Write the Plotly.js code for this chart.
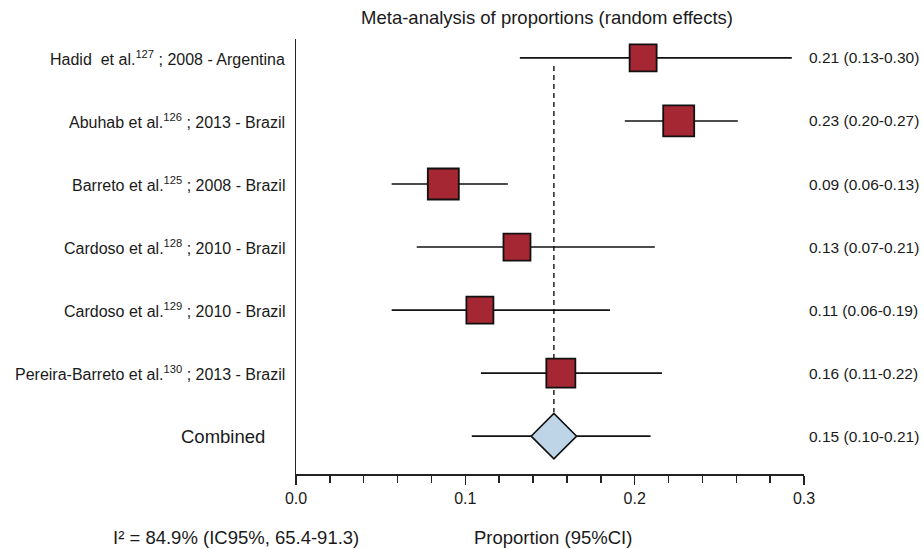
<!DOCTYPE html>
<html>
<head>
<meta charset="utf-8">
<script src="https://cdn.plot.ly/plotly-3.0.1.min.js"></script>
<style>html,body{margin:0;padding:0;background:#fff;}#chart{width:924px;height:549px;}</style>
</head>
<body>
<div id="chart"></div>
<script>
// ---- data ----
const studies = ['Hadid\u00a0 et al.', 'Abuhab et al.', 'Barreto et al.', 'Cardoso et al.', 'Cardoso et al.', 'Pereira-Barreto et al.'];
const refs = ['127', '126', '125', '128', '129', '130'];
const yearsCountry = ['2008 - Argentina', '2013 - Brazil', '2008 - Brazil', '2010 - Brazil', '2010 - Brazil', '2013 - Brazil'];
const estimates = [0.205, 0.226, 0.087, 0.1305, 0.1086, 0.1564];
const ciLow = [0.1322, 0.1942, 0.0565, 0.0713, 0.0565, 0.1092];
const ciHigh = [0.2928, 0.2609, 0.1251, 0.2119, 0.1854, 0.2161];
const rightLabels = ['0.21 (0.13-0.30)', '0.23 (0.20-0.27)', '0.09 (0.06-0.13)', '0.13 (0.07-0.21)', '0.11 (0.06-0.19)', '0.16 (0.11-0.22)'];
const pooledLabel = 'Combined';
const pooledEst = 0.1523;
const pooledLow = 0.1038;
const pooledHigh = 0.2094;
const pooledRight = '0.15 (0.10-0.21)';
const heterogeneity = 'I\u00b2 = 84.9% (IC95%, 65.4-91.3)';
const xTickVals = [0, 0.1, 0.2, 0.3];

// ---- styles (not data) ----
const markerSizes = [27, 31, 31, 27, 27, 29];
const FONT = '"Liberation Sans", Arial, sans-serif';
const TXT = '#1a1a1a';

const rows = studies.map((_, i) => i);
const pooledRow = studies.length;

const studyTrace = {
  type: 'scatter', mode: 'markers',
  x: estimates, y: rows,
  error_x: {
    type: 'data', symmetric: false,
    array: estimates.map((e, i) => ciHigh[i] - e),
    arrayminus: estimates.map((e, i) => e - ciLow[i]),
    color: '#111', thickness: 1.6, width: 0
  },
  marker: { symbol: 'square', size: markerSizes, opacity: 1, color: '#a52733', line: { color: '#111', width: 1.8 } },
  hoverinfo: 'skip', showlegend: false
};

const pooledTrace = {
  type: 'scatter', mode: 'markers',
  x: [pooledEst], y: [pooledRow],
  error_x: {
    type: 'data', symmetric: false,
    array: [pooledHigh - pooledEst], arrayminus: [pooledEst - pooledLow],
    color: '#111', thickness: 1.6, width: 0
  },
  marker: { symbol: 'diamond', size: 35, opacity: 1, color: '#bed5e8', line: { color: '#111', width: 1.6 } },
  hoverinfo: 'skip', showlegend: false
};

const annotations = [];
rows.forEach(i => {
  annotations.push({
    xref: 'paper', yref: 'y', x: 0, y: i, xanchor: 'right', yanchor: 'middle', xshift: -9,
    text: studies[i] + '<sup>' + refs[i] + '</sup> ; ' + yearsCountry[i],
    showarrow: false, font: { family: FONT, size: 16, color: TXT }
  });
  annotations.push({
    xref: 'paper', yref: 'y', x: 1, y: i, xanchor: 'left', yanchor: 'middle', xshift: 3,
    text: rightLabels[i], showarrow: false, font: { family: FONT, size: 15.5, color: TXT }
  });
});
annotations.push({
  xref: 'paper', yref: 'y', x: 0, y: pooledRow, xanchor: 'right', yanchor: 'middle', xshift: -29,
  text: pooledLabel, showarrow: false, font: { family: FONT, size: 18.5, color: TXT }
});
annotations.push({
  xref: 'paper', yref: 'y', x: 1, y: pooledRow, xanchor: 'left', yanchor: 'middle', xshift: 3,
  text: pooledRight, showarrow: false, font: { family: FONT, size: 15.5, color: TXT }
});
annotations.push({
  xref: 'paper', yref: 'paper', x: 0, y: 0, xanchor: 'center', yanchor: 'middle', xshift: -60, yshift: -63,
  text: heterogeneity, showarrow: false, font: { family: FONT, size: 18.5, color: TXT }
});
annotations.push({
  xref: 'paper', yref: 'paper', x: 0.5, y: 0, xanchor: 'center', yanchor: 'middle', xshift: 3, yshift: -63,
  text: 'Proportion (95%CI)', showarrow: false, font: { family: FONT, size: 18.5, color: TXT }
});

const layout = {
  width: 924, height: 549,
  margin: { l: 296, r: 120, t: 39, b: 75, pad: 0 },
  paper_bgcolor: '#fff', plot_bgcolor: '#fff',
  title: {
    text: 'Meta-analysis of proportions (random effects)',
    font: { family: FONT, size: 18.5, color: TXT },
    xref: 'container', x: 0.592, xanchor: 'center', yref: 'container', y: 1 - 18 / 549, yanchor: 'middle'
  },
  xaxis: {
    range: [0, 0.3], tickvals: xTickVals, tickformat: '.1f',
    showgrid: false, zeroline: false, showline: true, linecolor: '#222', linewidth: 1.5,
    ticks: 'outside', ticklen: 9, tickwidth: 1.5, tickcolor: '#222',
    minor: { dtick: 0.02, tick0: 0, ticks: 'outside', ticklen: 7, tickwidth: 1.5, tickcolor: '#222', showgrid: false },
    tickfont: { family: FONT, size: 16, color: TXT }, fixedrange: true
  },
  yaxis: {
    range: [6.6, -0.3], showgrid: false, zeroline: false, showline: true, linecolor: '#222', linewidth: 1.5,
    showticklabels: false, ticks: '', fixedrange: true
  },
  shapes: [{
    type: 'line', xref: 'x', yref: 'y', x0: pooledEst, x1: pooledEst, y0: 0.13, y1: pooledRow - 0.38,
    line: { color: '#222', width: 1.5, dash: '5px,4px' }, layer: 'below'
  }],
  annotations: annotations,
  showlegend: false
};

Plotly.newPlot('chart', [studyTrace, pooledTrace], layout, { displayModeBar: false, staticPlot: true });
</script>
</body>
</html>
